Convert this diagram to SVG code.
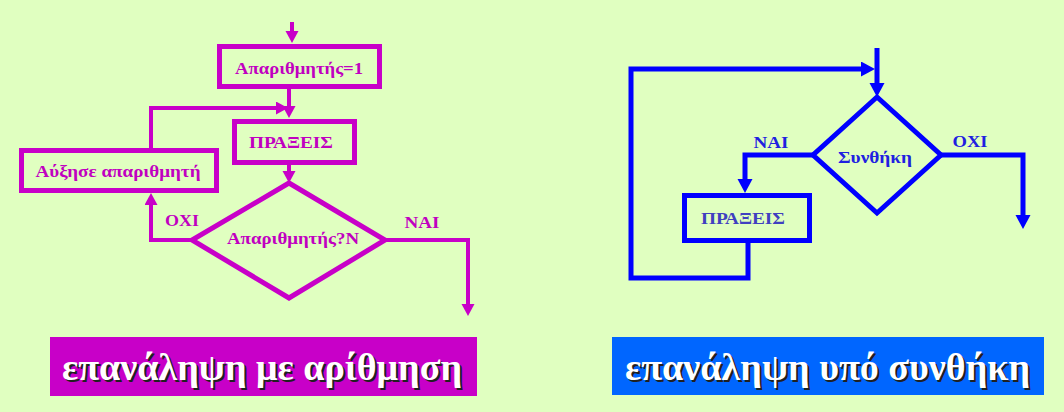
<svg xmlns="http://www.w3.org/2000/svg" width="1064" height="412" viewBox="0 0 1064 412">
<style>
.bg{fill:#E0FFC0}
.mbox{fill:none;stroke:#C800C8;stroke-width:5}
.bbox{fill:none;stroke:#0000FF;stroke-width:5}
.mline{fill:none;stroke:#C800C8;stroke-width:4}
.bline{fill:none;stroke:#0000FF;stroke-width:5}
.t{font-family:"Liberation Serif","Times New Roman",serif;font-weight:bold;font-size:16px;text-anchor:middle}
.mt{fill:#C000C0}
.bt{fill:#2020E0}
.bt2{fill:#4040C0}
.ban{font-family:"Liberation Serif","Times New Roman",serif;font-weight:bold;font-size:37px}
</style>
<defs>
<marker id="am" markerUnits="userSpaceOnUse" markerWidth="14" markerHeight="14" refX="2" refY="6.5" orient="auto">
<path d="M0,0 L12,6.5 L0,13 z" fill="#C800C8"/>
</marker>
<marker id="ab" markerUnits="userSpaceOnUse" markerWidth="16" markerHeight="16" refX="2" refY="7.5" orient="auto">
<path d="M0,0 L14,7.5 L0,15 z" fill="#0000FF"/>
</marker>
</defs>
<rect class="bg" x="0" y="0" width="1064" height="412"/>

<g id="connectors">
<path class="mline" d="M292,22 V33" marker-end="url(#am)"/>
<path class="mline" d="M289,89 V108" marker-end="url(#am)"/>
<path class="mline" d="M151,150 V108 H278" marker-end="url(#am)"/>
<path class="mline" d="M289,165 V173" marker-end="url(#am)"/>
<path class="mline" d="M192,240 H151 V203" marker-end="url(#am)"/>
<path class="mline" d="M385,240 H468 V306" marker-end="url(#am)"/>

<path class="bline" d="M877,48 V85" marker-end="url(#ab)"/>
<path class="bline" d="M748,243 V278 H631 V69 H863" marker-end="url(#ab)"/>
<path class="bline" d="M813,155 H745 V181" marker-end="url(#ab)"/>
<path class="bline" d="M941,155 H1023 V217" marker-end="url(#ab)"/>
</g>

<g id="init">
<rect class="mbox" x="219.5" y="46.5" width="160" height="40"/>
<text class="t mt" x="299" y="74" textLength="128" lengthAdjust="spacingAndGlyphs">Απαριθμητής=1</text>
</g>
<g id="praxeis1">
<rect class="mbox" x="234.5" y="121.5" width="120" height="41"/>
<text class="t mt" x="291" y="148" textLength="84" lengthAdjust="spacingAndGlyphs">ΠΡΑΞΕΙΣ</text>
</g>
<g id="increment">
<rect class="mbox" x="21.5" y="150.5" width="195" height="40"/>
<text class="t mt" x="118" y="177" textLength="165" lengthAdjust="spacingAndGlyphs">Αύξησε απαριθμητή</text>
</g>
<g id="cond1">
<polygon class="mbox" points="289,183 385,240 289,298 192,240"/>
<text class="t mt" x="293" y="244" textLength="132" lengthAdjust="spacingAndGlyphs">Απαριθμητής?Ν</text>
</g>
<g id="labels1">
<text class="t mt" x="182" y="226" textLength="34" lengthAdjust="spacingAndGlyphs">ΟΧΙ</text>
<text class="t mt" x="422" y="228" textLength="35" lengthAdjust="spacingAndGlyphs">ΝΑΙ</text>
</g>

<g id="cond2">
<polygon class="bbox" points="877,97 941,155 877,213 813,155"/>
<text class="t bt" x="875" y="163" textLength="74" lengthAdjust="spacingAndGlyphs">Συνθήκη</text>
</g>
<g id="praxeis2">
<rect class="bbox" x="684.5" y="195.5" width="125" height="45"/>
<text class="t bt2" x="743" y="224" textLength="84" lengthAdjust="spacingAndGlyphs">ΠΡΑΞΕΙΣ</text>
</g>
<g id="labels2">
<text class="t bt" x="771" y="148" textLength="35" lengthAdjust="spacingAndGlyphs">ΝΑΙ</text>
<text class="t bt" x="970" y="147" textLength="35" lengthAdjust="spacingAndGlyphs">ΟΧΙ</text>
</g>

<g id="banner1">
<rect x="50" y="337" width="427" height="59" fill="#C800C8"/>
<text class="ban" x="64" y="382" fill="#202020" textLength="400" lengthAdjust="spacingAndGlyphs">επανάληψη με αρίθμηση</text>
<text class="ban" x="62" y="380" fill="#FFFFFF" textLength="400" lengthAdjust="spacingAndGlyphs">επανάληψη με αρίθμηση</text>
</g>
<g id="banner2">
<rect x="612" y="337" width="432" height="58" fill="#0066FF"/>
<text class="ban" x="627" y="382" fill="#202020" textLength="405" lengthAdjust="spacingAndGlyphs">επανάληψη υπό συνθήκη</text>
<text class="ban" x="625" y="380" fill="#FFFFFF" textLength="405" lengthAdjust="spacingAndGlyphs">επανάληψη υπό συνθήκη</text>
</g>
</svg>
